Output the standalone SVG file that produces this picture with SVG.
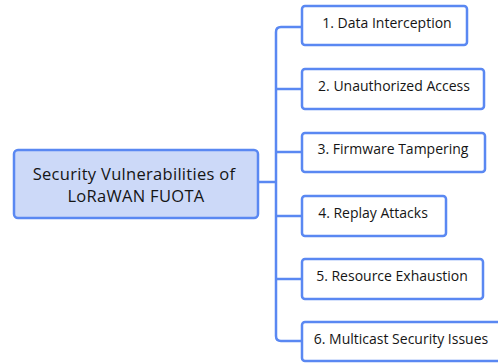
<svg xmlns="http://www.w3.org/2000/svg" width="498" height="363" viewBox="0 0 498 363">
<style>
.n rect{fill:#ffffff;stroke:#5a88f2;stroke-width:2.5}
.m rect{fill:#ccd9f8;stroke:#5a88f2;stroke-width:2.5}
text{font-family:"Open Sans","DejaVu Sans",sans-serif;fill:#151515;text-anchor:middle}
.n text{font-size:14px}
.m text{font-size:16.5px;letter-spacing:0.3px}
.c path{fill:none;stroke:#5a88f2;stroke-width:2.5;stroke-linejoin:round}
</style>
<g class="c">
<path d="M258 182 H276"/>
<path d="M302 27 H281 Q276 27 276 32 V336 Q276 341 281 341 H302"/>
<path d="M276 89 H302"/>
<path d="M276 152 H302"/>
<path d="M276 216 H302"/>
<path d="M276 279 H302"/>
</g>
<g id="root" class="m"><rect x="14" y="150" width="244" height="68" rx="4"/><text x="134" y="180">Security Vulnerabilities of</text><text x="136" y="202">LoRaWAN FUOTA</text></g>
<g id="n1" class="n"><rect x="302" y="6" width="165" height="39" rx="3"/><text x="387" y="28">1. Data Interception</text></g>
<g id="n2" class="n"><rect x="302" y="69" width="182" height="40" rx="3"/><text x="394" y="91">2. Unauthorized Access</text></g>
<g id="n3" class="n"><rect x="302" y="133" width="183" height="39" rx="3"/><text x="393" y="154">3. Firmware Tampering</text></g>
<g id="n4" class="n"><rect x="302" y="196" width="144" height="40" rx="3"/><text x="373" y="218">4. Replay Attacks</text></g>
<g id="n5" class="n"><rect x="302" y="259" width="181" height="40" rx="3"/><text x="392" y="281">5. Resource Exhaustion</text></g>
<g id="n6" class="n"><rect x="302" y="322" width="210" height="39" rx="3"/><text x="401" y="344">6. Multicast Security Issues</text></g>
</svg>
